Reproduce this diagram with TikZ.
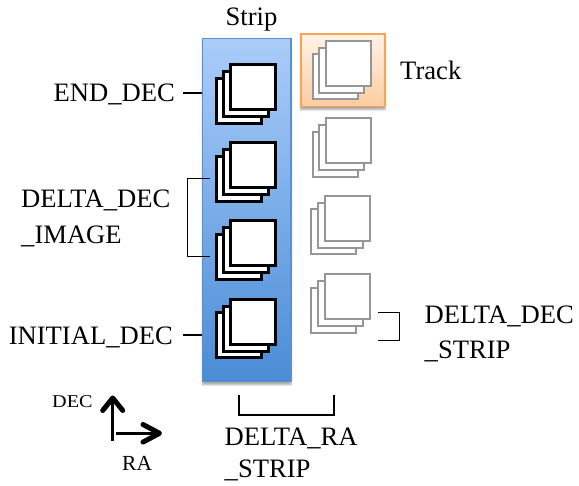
\documentclass[tikz,border=0pt]{standalone}
\usepackage{fontspec}
\setmainfont{Liberation Serif}
\usetikzlibrary{shadows.blur}

\definecolor{striptop}{RGB}{170,205,250}
\definecolor{stripbot}{RGB}{74,140,214}
\definecolor{stripedge}{RGB}{92,143,206}
\definecolor{tracktop}{RGB}{255,242,232}
\definecolor{trackbot}{RGB}{252,204,160}
\definecolor{trackedge}{RGB}{248,164,80}
\definecolor{ghost}{RGB}{150,150,150}

\tikzset{
  lbl/.style={font=\fontsize{26.6}{32}\selectfont, inner sep=0pt},
  small/.style={font=\fontsize{21.5}{26}\selectfont, inner sep=0pt},
  imgsq/.style={draw=black, line width=3pt, fill=white, minimum size=45pt, inner sep=0pt},
  ghostsq/.style={draw=ghost, line width=2pt, fill=white, minimum size=45pt, inner sep=0pt},
  tick/.style={draw=black, line width=1.6pt},
  axis/.style={draw=black, line width=3pt},
  barb/.style={draw=black, line width=5pt, line cap=round, line join=round},
  soft shadow/.style={blur shadow={shadow xshift=0pt, shadow yshift=-3pt, shadow blur steps=6, shadow opacity=35}}
}

% a stack of three overlapping frames; #1 name, #2 style, #3 x, #4 y of the front frame
\newcommand{\framestack}[4]{%
  \node[#2] (#1-b) at (#3-13.3,#4+13.3) {};
  \node[#2] (#1-m) at (#3-6.7,#4+6.7) {};
  \node[#2] (#1) at (#3,#4) {};
}

\begin{document}
\begin{tikzpicture}[x=1pt,y=-1pt]
\useasboundingbox (0,0) rectangle (579,486);

% strip background and highlighted track box
\node[soft shadow, draw=stripedge, line width=1.4pt, top color=striptop, bottom color=stripbot,
      minimum width=88.3pt, minimum height=343.4pt, inner sep=0pt] (strip) at (246.85,210) {};
\node[soft shadow, draw=trackedge, line width=1.6pt, top color=tracktop, bottom color=trackbot,
      minimum width=84.3pt, minimum height=72.7pt, inner sep=0pt] (trackbox) at (342.85,70.35) {};

% images inside the strip
\framestack{s1}{imgsq}{252.5}{87.5}
\framestack{s2}{imgsq}{252.5}{165.5}
\framestack{s3}{imgsq}{252.5}{243.5}
\framestack{s4}{imgsq}{252.5}{322}

% neighbouring strips
\framestack{t1}{ghostsq}{348.5}{63.5}
\framestack{t2}{ghostsq}{348.5}{141}
\framestack{t3}{ghostsq}{347}{218.5}
\framestack{t4}{ghostsq}{347}{297}

% titles
\node[lbl, anchor=base] (striplbl) at (251.5,26) {Strip};
\node[lbl, anchor=base west] (tracklbl) at (400,80) {Track};

% declination labels on the left
\node[lbl, anchor=base east] (enddec) at (175,101.7) {END\_DEC};
\node[lbl, anchor=base west] (ddi1) at (21,207.3) {DELTA\_DEC};
\node[lbl, anchor=base west] (ddi2) at (21,244) {\_IMAGE};
\node[lbl, anchor=base east] (initdec) at (173,345) {INITIAL\_DEC};

% strip spacing labels
\node[lbl, anchor=base west] (dds1) at (424.5,323.3) {DELTA\_DEC};
\node[lbl, anchor=base west] (dds2) at (424.5,358.3) {\_STRIP};
\node[lbl, anchor=base west] (dra1) at (224.5,446) {DELTA\_RA};
\node[lbl, anchor=base west] (dra2) at (224.5,478) {\_STRIP};

% leader lines to the strip
\coordinate (ed) at ([xshift=8pt,yshift=8.4pt]enddec.base east);
\draw[tick] (ed) -- (ed -| strip.west);
\coordinate (id) at ([xshift=10pt,yshift=10pt]initdec.base east);
\draw[tick] (id) -- (id -| strip.west);

% bracket spanning two images
\coordinate (bi1) at ([xshift=-5pt]s2-b.west);
\coordinate (bi2) at ([xshift=-5pt]s3-b.west);
\draw[tick, line width=1.3pt] (bi1) -- ++(-22.4,0) |- (bi2);

% bracket for the declination spacing of strips
\coordinate (bs1) at (378.3,312.7);
\coordinate (bs2) at (378.3,340.7);
\draw[tick] (bs1) -- (399.3,312.7) |- (bs2);

% bracket for the right-ascension width of a strip
\coordinate (br1) at (239,395);
\coordinate (br2) at (334,395);
\draw[tick] (br1) |- (334,415) -- (br2);

% axis arrows with open barbed heads
\coordinate (decfoot) at (112.7,441);
\coordinate (dectip) at (112.7,398);
\coordinate (rafoot) at (116,433.3);
\coordinate (ratip) at (159.5,433.3);
\draw[axis] (decfoot) -- ([yshift=-2pt]dectip);
\draw[axis] (rafoot) -- ([xshift=-2pt]ratip);
\draw[barb] ([shift={(-10,12.5)}]dectip) -- (dectip) -- ([shift={(10,12.5)}]dectip);
\draw[barb] ([shift={(-16.5,-8.8)}]ratip) -- (ratip) -- ([shift={(-16.5,8.8)}]ratip);
\node[small, anchor=base west] (declbl) at (52,407.5) {\scalebox{1.12}[1]{\fontsize{18}{22}\selectfont DEC}};
\node[small, anchor=base west] (ralbl) at (122,470.7) {RA};
\end{tikzpicture}
\end{document}
